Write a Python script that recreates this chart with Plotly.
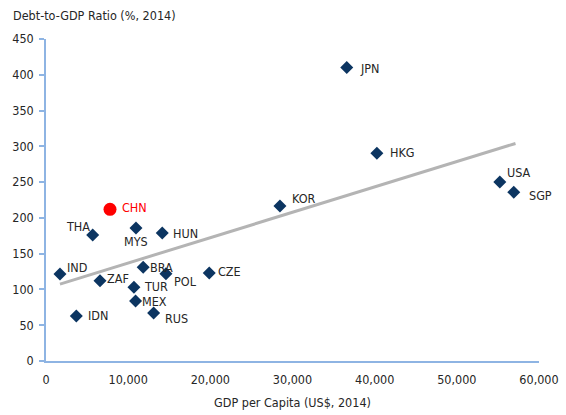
import plotly.graph_objects as go

countries = ["JPN", "HKG", "USA", "SGP", "KOR", "THA", "MYS", "HUN", "IND", "BRA",
             "POL", "CZE", "ZAF", "TUR", "MEX", "RUS", "IDN"]
gdp_pc = [36600, 40270, 55230, 56930, 28470, 5680, 10950, 14150, 1700, 11830,
          14600, 19870, 6570, 10700, 10900, 13100, 3690]
debt = [410, 290.5, 250, 236, 216.5, 176, 186, 179, 121.5, 131,
        122, 123, 112, 103, 84, 67, 63]

china_name = ["CHN"]
china_gdp = [7790]
china_debt = [212]

trend_x = [1700, 57140]
trend_y = [107.5, 304]

x_ticks = [0, 10000, 20000, 30000, 40000, 50000, 60000]
y_ticks = [0, 50, 100, 150, 200, 250, 300, 350, 400, 450]

# label offsets in pixels (dx, dy with dy positive = up), anchor
label_pos = {
    "JPN": (12, -1, "left"), "HKG": (12, 1, "left"), "USA": (6, 10, "left"),
    "SGP": (14, -3, "left"), "KOR": (11, 8, "left"), "THA": (-2, 9, "right"),
    "MYS": (0, -14, "center"), "HUN": (10, -1, "left"), "IND": (6, 7, "left"),
    "BRA": (6, 0, "left"), "POL": (7, -8, "left"), "CZE": (8, 1, "left"),
    "ZAF": (6, 2, "left"), "TUR": (9, 1, "left"), "MEX": (5, -1, "left"),
    "RUS": (10, -5, "left"), "IDN": (11, 0, "left"),
}

FONT = "DejaVu Sans Condensed, sans-serif"
FS = 12.5
TXT = "#262626"
AXIS_COLOR = "#8EB4E3"

fig = go.Figure()
fig.add_trace(go.Scatter(x=trend_x, y=trend_y, mode="lines",
                         line=dict(color="#B4B4B4", width=3), hoverinfo="skip"))
fig.add_trace(go.Scatter(x=gdp_pc, y=debt, mode="markers",
                         marker=dict(symbol="diamond", size=10, color="#0C3561"),
                         text=countries))
fig.add_trace(go.Scatter(x=china_gdp, y=china_debt, mode="markers",
                         marker=dict(symbol="circle", size=13, color="#FF0000"),
                         text=china_name))

for name, x, y in zip(countries, gdp_pc, debt):
    dx, dy, anchor = label_pos[name]
    fig.add_annotation(x=x, y=y, text=name, showarrow=False, xanchor=anchor,
                       yanchor="middle", xshift=dx, yshift=dy, borderpad=0,
                       font=dict(family=FONT, size=FS, color=TXT))
fig.add_annotation(x=china_gdp[0], y=china_debt[0], text=china_name[0], showarrow=False,
                   xanchor="left", yanchor="middle", xshift=11, yshift=2, borderpad=0,
                   font=dict(family=FONT, size=FS, color="#FF0000"))

fig.add_annotation(xref="paper", yref="paper", x=-35/493, y=1 + 24/322,
                   text="Debt-to-GDP Ratio (%, 2014)", showarrow=False,
                   xanchor="left", yanchor="middle",
                   font=dict(family=FONT, size=FS, color=TXT))

fig.update_layout(
    width=566, height=415,
    margin=dict(l=46, r=27, t=39, b=54),
    paper_bgcolor="white", plot_bgcolor="white",
    showlegend=False,
    font=dict(family=FONT, size=FS, color=TXT),
)
fig.update_xaxes(range=[0, 60000], tickvals=x_ticks,
                 ticktext=[f"{v:,}" for v in x_ticks], automargin=False,
                 showgrid=False, zeroline=False, showline=True,
                 linecolor=AXIS_COLOR, linewidth=1.5, ticks="",
                 ticklabelstandoff=6,
                 title=dict(text="GDP per Capita (US$, 2014)", standoff=12,
                            font=dict(family=FONT, size=FS, color=TXT)))
fig.update_yaxes(range=[0, 450], tickvals=y_ticks, showgrid=False, zeroline=False,
                 automargin=False, ticklabelstandoff=3,
                 showline=True, linecolor=AXIS_COLOR, linewidth=1.5,
                 ticks="outside", ticklen=5, tickcolor=AXIS_COLOR, tickwidth=1.5)

fig.write_html("out.html", config={"displayModeBar": False},
               post_script="document.body.style.margin='0px';")
